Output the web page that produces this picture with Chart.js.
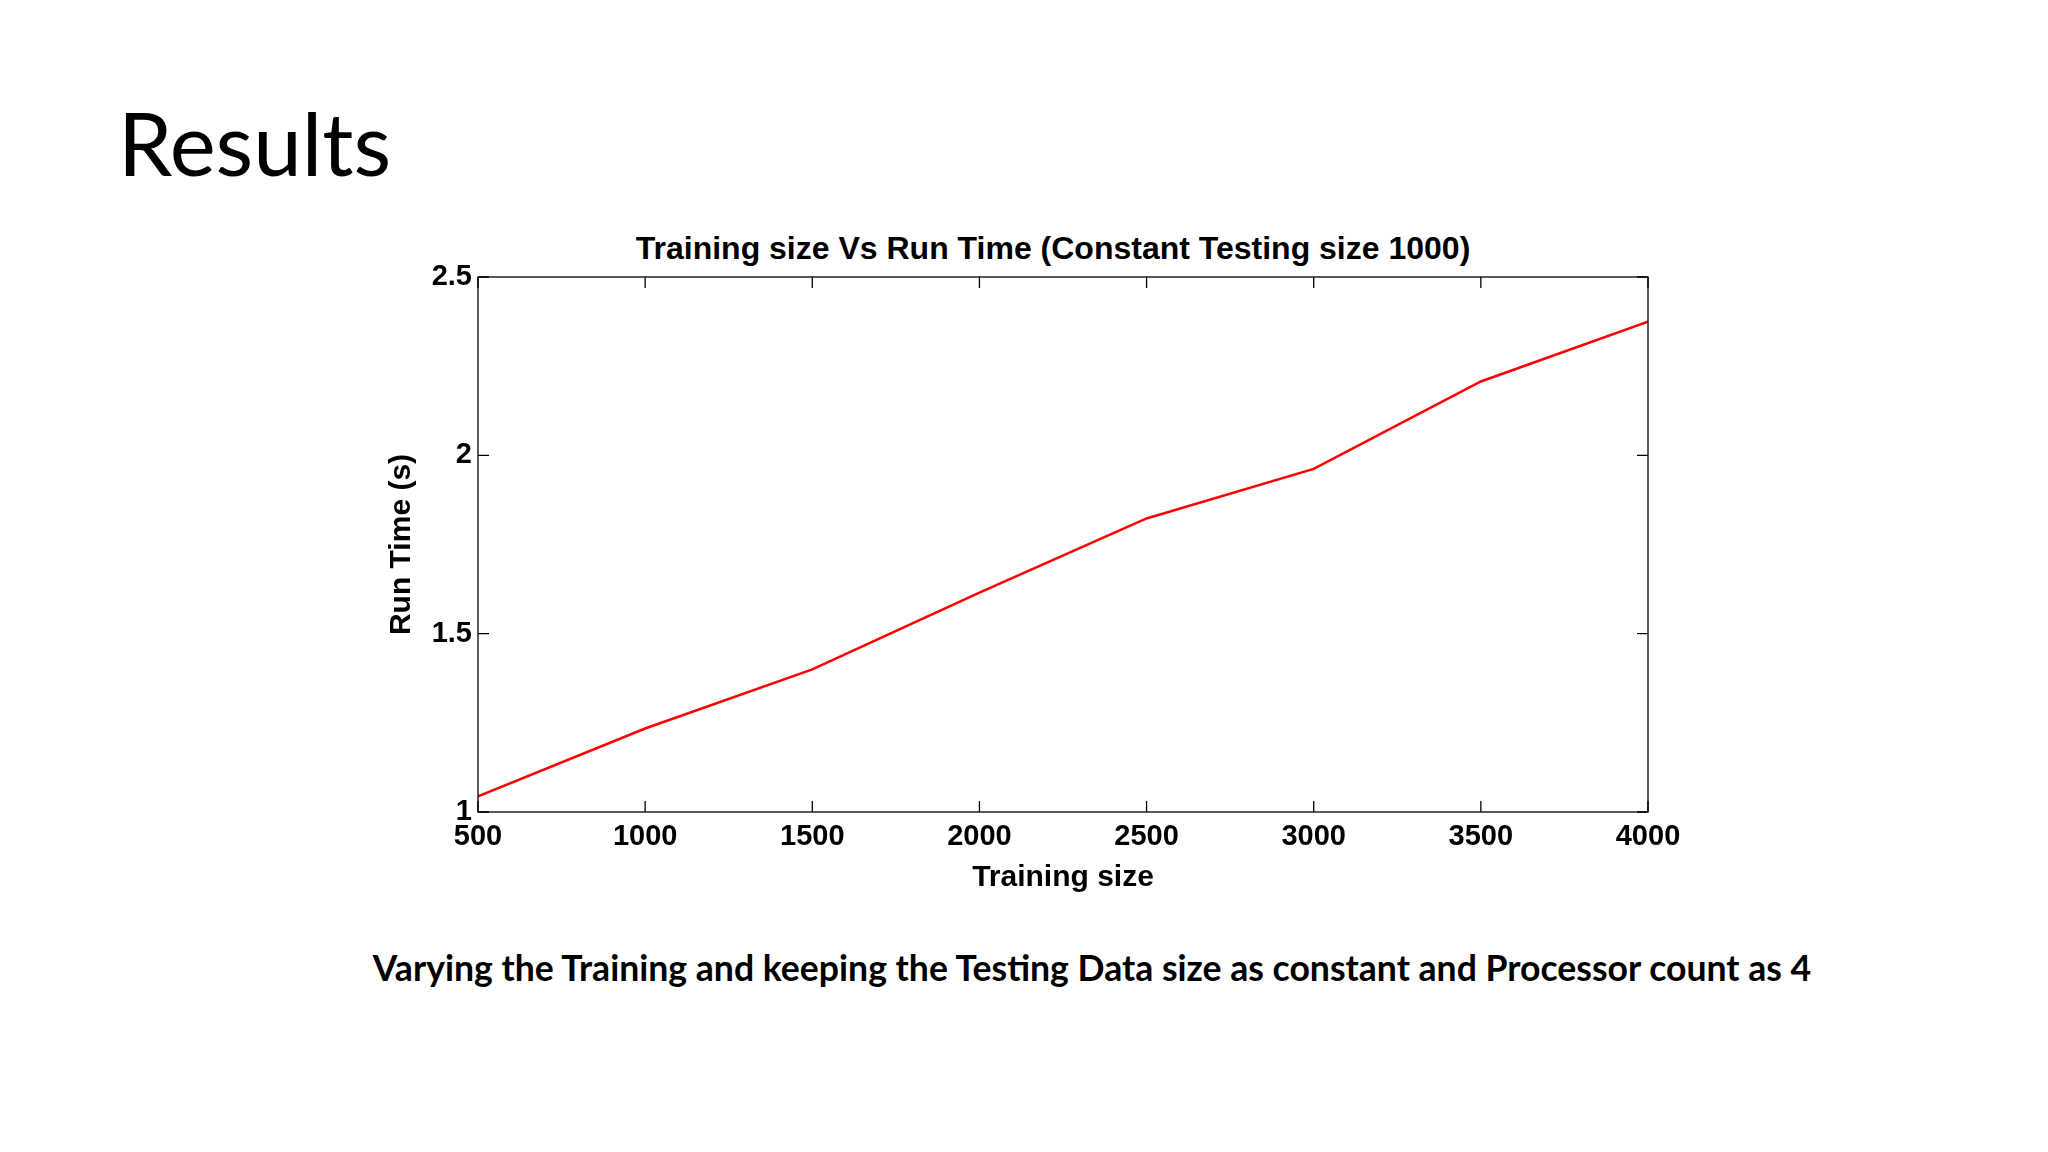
<!DOCTYPE html>
<html><head><meta charset="utf-8">
<script src="https://cdn.jsdelivr.net/npm/chart.js@4/dist/chart.umd.min.js"></script>
<style>
body{margin:0;width:2048px;height:1152px;background:#fff;position:relative;overflow:hidden;font-family:Lato,"Open Sans",sans-serif}
#h{position:absolute;left:118px;top:90px;font-size:87px;color:#000;font-family:Lato,sans-serif}
#t{position:absolute;left:478px;width:1150px;top:230px;text-align:center;font:bold 32px "Liberation Sans",Arial,sans-serif}
#c{position:absolute;left:370px;width:1444px;text-align:center;font-weight:bold;font-size:35.6px;top:946px}
#w{position:absolute;left:380px;top:200px;width:1330px;height:700px}
</style></head><body>
<div id="h">Results</div>
<div id="t">Training size Vs Run Time (Constant Testing size 1000)</div>
<div id="c">Varying the Training and keeping the Testing Data size as constant and Processor count as 4</div>
<div id="w"><canvas id="cv"></canvas></div>
<script>
const trainingSizes=[500,1000,1500,2000,2500,3000,3500,4000];
const runTimes=[1.044,1.234,1.40,1.615,1.823,1.962,2.207,2.375];
const xTicks=[500,1000,1500,2000,2500,3000,3500,4000];
const yTicks=[1,1.5,2,2.5];
const F='"Liberation Sans",Arial,sans-serif';
const frame={id:'frame',afterDatasetsDraw(ch){const {ctx,chartArea:a,scales:{x,y}}=ch;ctx.save();ctx.strokeStyle='#000';ctx.lineWidth=1.3;ctx.strokeRect(a.left,a.top,a.right-a.left,a.bottom-a.top);ctx.beginPath();
for(const v of xTicks){const p=x.getPixelForValue(v);ctx.moveTo(p,a.bottom);ctx.lineTo(p,a.bottom-11);ctx.moveTo(p,a.top);ctx.lineTo(p,a.top+11);}
for(const v of yTicks){const p=y.getPixelForValue(v);ctx.moveTo(a.left,p);ctx.lineTo(a.left+11,p);ctx.moveTo(a.right,p);ctx.lineTo(a.right-11,p);}
ctx.stroke();ctx.restore();}};
new Chart(document.getElementById('cv'),{type:'line',
data:{datasets:[{data:trainingSizes.map((v,i)=>({x:v,y:runTimes[i]})),borderColor:'#ff0000',borderWidth:2.5,pointRadius:0,tension:0}]},
options:{responsive:true,maintainAspectRatio:false,animation:false,layout:{padding:{top:77,right:62,left:0,bottom:0}},
plugins:{legend:{display:false},tooltip:{enabled:false}},
scales:{
x:{type:'linear',min:500,max:4000,afterFit:s=>{s.height=88},afterBuildTicks:s=>{s.ticks=xTicks.map(v=>({value:v}))},grid:{display:false},border:{display:false},
ticks:{color:'#000',font:{family:F,weight:'bold',size:29},padding:0,maxRotation:0,autoSkip:false,callback:v=>String(v)},
title:{display:true,text:'Training size',color:'#000',font:{family:F,weight:'bold',size:30},padding:{top:-14}}},
y:{min:1,max:2.5,afterFit:s=>{s.width=98},afterBuildTicks:s=>{s.ticks=yTicks.map(v=>({value:v}))},grid:{display:false},border:{display:false},
ticks:{color:'#000',font:{family:F,weight:'bold',size:29},padding:-2,callback:v=>String(v)},
title:{display:true,text:'Run Time (s)',color:'#000',font:{family:F,weight:'bold',size:30},padding:{bottom:10}}}}},
plugins:[frame]});
</script></body></html>
